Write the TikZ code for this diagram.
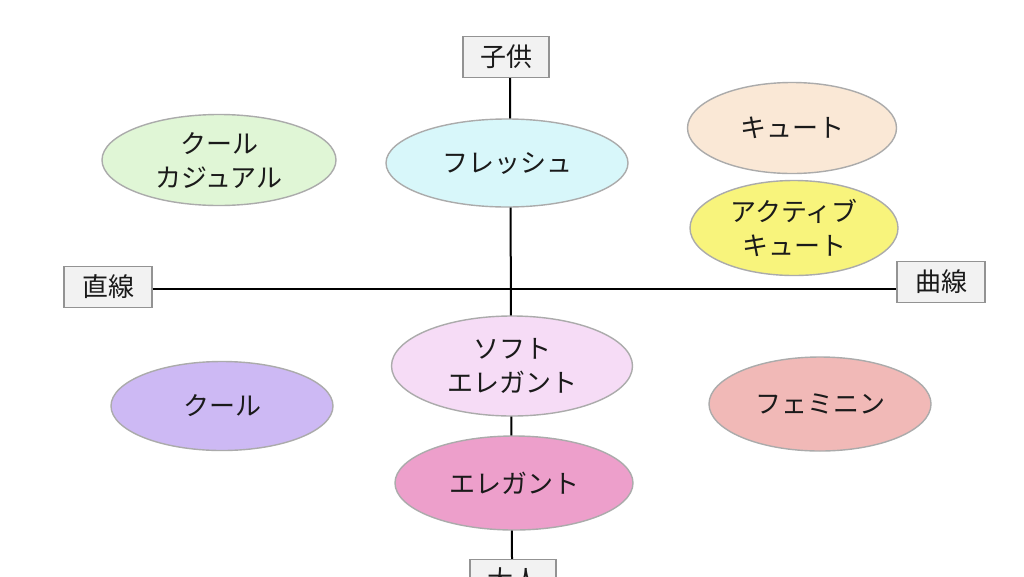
\documentclass[tikz,border=0pt]{standalone}
\usepackage{fontspec}
\setmainfont{Noto Sans CJK JP}
\usetikzlibrary{shapes.geometric}
\definecolor{edgegray}{HTML}{ABABAB}
\definecolor{boxfill}{HTML}{F2F2F2}
\definecolor{cgreen}{HTML}{E0F6D6}
\definecolor{ccyan}{HTML}{D8F7FA}
\definecolor{cpeach}{HTML}{FAE8D6}
\definecolor{cyellow}{HTML}{F8F47C}
\definecolor{clilac}{HTML}{F6DCF6}
\definecolor{cviolet}{HTML}{CDB9F4}
\definecolor{csalmon}{HTML}{F1B9B7}
\definecolor{cpink}{HTML}{ED9FCB}
\definecolor{txt}{HTML}{1A1A1A}
\tikzset{
  x=1pt, y=-1pt,
  typebox/.style={ellipse, draw=edgegray, line width=1.4pt, inner sep=0pt,
    align=center, text=txt, font=\fontsize{26}{34}\selectfont},
  axisbox/.style={rectangle, draw=gray!85, fill=boxfill, line width=1.2pt, inner sep=0pt,
    minimum width=86pt, minimum height=41pt, text=txt, font=\fontsize{26}{28}\selectfont},
  axisline/.style={line width=2pt, black}
}
\begin{document}
\begin{tikzpicture}
\useasboundingbox (0,0) rectangle (1024,576);
\clip (0,0) rectangle (1024,576);
\fill[white] (0,0) rectangle (1024,576);
% axis labels
\node[axisbox] (child) at (506,57) {子供};
\node[axisbox] (adult) at (513,580) {大人};
\node[axisbox, minimum width=88pt] (straight) at (108,287) {直線};
\node[axisbox, minimum width=88pt] (curve) at (941,282) {曲線};
% axes
\draw[axisline] (child.south -| 510,0) -- (adult.north -| 512,0);
\draw[axisline] (straight.east |- 0,289) -- (curve.west |- 0,289);
% types
\node[typebox, fill=cgreen, minimum width=234pt, minimum height=91pt] (coolcas) at (219,160) {クール\\カジュアル};
\node[typebox, fill=ccyan, minimum width=242pt, minimum height=88pt] (fresh) at (507,163) {フレッシュ};
\node[typebox, fill=cpeach, minimum width=209pt, minimum height=91pt] (cute) at (792,128) {キュート};
\node[typebox, fill=cyellow, minimum width=208pt, minimum height=95pt] (activecute) at (794,228) {アクティブ\\キュート};
\node[typebox, fill=clilac, minimum width=241pt, minimum height=100pt] (softeleg) at (512,366) {ソフト\\エレガント};
\node[typebox, fill=cviolet, minimum width=222pt, minimum height=89pt] (cool) at (222,406) {クール};
\node[typebox, fill=csalmon, minimum width=222pt, minimum height=94pt] (feminine) at (820,404) {フェミニン};
\node[typebox, fill=cpink, minimum width=238pt, minimum height=94pt] (elegant) at (514,483) {エレガント};
\end{tikzpicture}
\end{document}
